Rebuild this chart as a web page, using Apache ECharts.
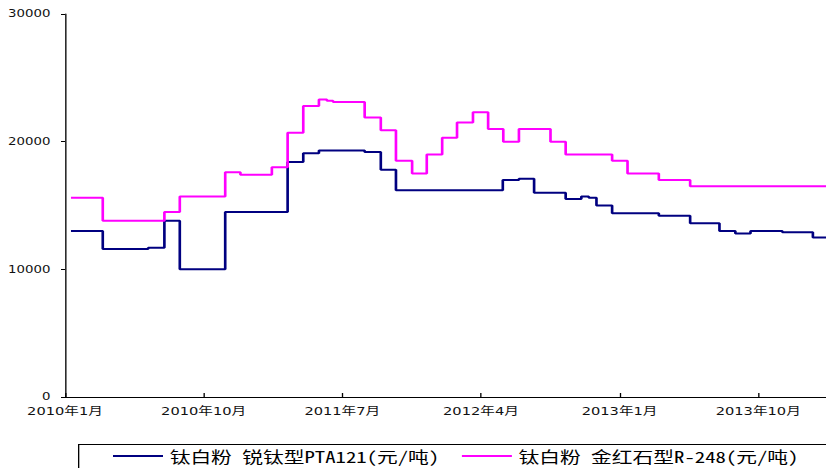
<!DOCTYPE html>
<html>
<head>
<meta charset="utf-8">
<script src="https://cdn.jsdelivr.net/npm/echarts@6/dist/echarts.min.js"></script>
<style>
  html, body { margin: 0; padding: 0; background: #fff; overflow: hidden; }
  /* chart is laid out on a narrower canvas and widened horizontally */
  #chart { width: 621px; height: 468px; transform-origin: 0 0; }
</style>
</head>
<body>
<div id="chart"></div>
<script>
// 钛白粉 锐钛型PTA121 (元/吨): date the price took effect, price
const anataseDates = ['2010-01-13', '2010-03-15', '2010-06-13', '2010-07-15', '2010-08-15',
  '2010-11-13', '2011-03-15', '2011-04-15', '2011-05-16', '2011-08-15', '2011-09-16',
  '2011-10-16', '2012-05-14', '2012-06-15', '2012-07-15', '2012-09-16', '2012-10-17',
  '2012-11-01', '2012-11-16', '2012-12-17', '2013-03-18', '2013-05-19', '2013-07-16',
  '2013-08-17', '2013-09-16', '2013-11-18', '2014-01-18', '2014-02-28'];
const anataseValues = [13000, 11600, 11700, 13800, 10000,
  14500, 18400, 19100, 19300, 19200, 17800,
  16200, 17000, 17100, 16000, 15500, 15700,
  15600, 15000, 14400, 14200, 13600, 13000,
  12800, 13000, 12900, 12500, 12500];

// 钛白粉 金红石型R-248 (元/吨)
const rutileDates = ['2010-01-13', '2010-03-15', '2010-07-15', '2010-08-15', '2010-11-13',
  '2010-12-13', '2011-02-13', '2011-03-15', '2011-04-15', '2011-05-16', '2011-06-01',
  '2011-06-13', '2011-08-15', '2011-09-16', '2011-10-16', '2011-11-17', '2011-12-16',
  '2012-01-16', '2012-02-14', '2012-03-16', '2012-04-15', '2012-05-15', '2012-06-15',
  '2012-08-17', '2012-09-16', '2012-12-17', '2013-01-17', '2013-03-18', '2013-05-19',
  '2014-02-28'];
const rutileValues = [15600, 13800, 14500, 15700, 17600,
  17400, 18000, 20700, 22800, 23300, 23200,
  23100, 21900, 20900, 18500, 17500, 19000,
  20300, 21500, 22300, 21000, 20000, 21000,
  20000, 19000, 18500, 17500, 17000, 16500,
  16500];

const seriesNames = ['钛白粉 锐钛型PTA121(元/吨)', '钛白粉 金红石型R-248(元/吨)'];
const seriesColors = ['#000080', '#FF00FF'];

// x axis runs in months counted from January 2010
const startYear = 2010;
const axisMonths = 49.4;
const tickMonths = 9;
const yTicks = [0, 10000, 20000, 30000];

const STRETCH = 826 / 621;
document.getElementById('chart').style.transform = 'scaleX(' + STRETCH + ')';

function toMonth(s) {
  const [y, m, d] = s.split('-').map(Number);
  const days = new Date(y, m, 0).getDate();
  return (y - startYear) * 12 + (m - 1) + (d - 1) / days;
}
function pairs(dates, values) {
  return dates.map((d, i) => [toMonth(d), values[i]]);
}
function monthLabel(v) {
  if (Math.abs(v - Math.round(v)) > 1e-6) return '';
  const y = startYear + Math.floor(v / 12);
  const m = (v % 12) + 1;
  return y + '年' + m + '月';
}

const chart = echarts.init(document.getElementById('chart'), null, { renderer: 'svg' });
const px = v => v / STRETCH;
const legendFont = '"Noto Sans Mono CJK SC", "Noto Sans CJK SC", sans-serif';

chart.setOption({
  animation: false,
  backgroundColor: '#fff',
  grid: { left: px(65), right: 0, top: 14, bottom: 71 },
  xAxis: {
    type: 'value',
    min: 0,
    max: axisMonths,
    interval: tickMonths,
    splitLine: { show: false },
    axisLine: { lineStyle: { color: '#000', width: 1 } },
    axisTick: { inside: true, length: 4, lineStyle: { color: '#000' } },
    axisLabel: {
      formatter: monthLabel,
      showMaxLabel: false,
      margin: 9,
      color: '#111',
      fontSize: 11,
      fontFamily: '"DejaVu Sans", "Noto Sans CJK SC", sans-serif'
    }
  },
  yAxis: {
    type: 'value',
    min: yTicks[0],
    max: yTicks[yTicks.length - 1],
    interval: yTicks[1] - yTicks[0],
    splitLine: { show: false },
    axisLine: { show: true, lineStyle: { color: '#000', width: 1 } },
    axisTick: { show: true, length: 3, lineStyle: { color: '#000' } },
    axisLabel: {
      formatter: v => String(v),
      margin: 11,
      color: '#111',
      fontSize: 10,
      fontFamily: '"DejaVu Sans", sans-serif'
    }
  },
  legend: {
    left: px(113),
    top: 448,
    padding: 0,
    icon: 'rect',
    itemWidth: px(50),
    itemHeight: 2,
    itemGap: 17,
    textStyle: {
      color: '#000', fontSize: 15.6, fontWeight: 300, lineHeight: 16, fontFamily: legendFont
    },
    data: seriesNames
  },
  graphic: [{
    type: 'rect',
    shape: { x: px(78) + 0.5, y: 444.5, width: 700, height: 60 },
    style: { fill: 'none', stroke: '#000', lineWidth: 1 },
    silent: true
  }],
  series: [
    {
      name: seriesNames[0],
      type: 'line',
      step: 'end',
      symbol: 'none',
      color: seriesColors[0],
      lineStyle: { width: 2, color: seriesColors[0] },
      data: pairs(anataseDates, anataseValues)
    },
    {
      name: seriesNames[1],
      type: 'line',
      step: 'end',
      symbol: 'none',
      color: seriesColors[1],
      lineStyle: { width: 2, color: seriesColors[1] },
      data: pairs(rutileDates, rutileValues)
    }
  ]
});
</script>
</body>
</html>
